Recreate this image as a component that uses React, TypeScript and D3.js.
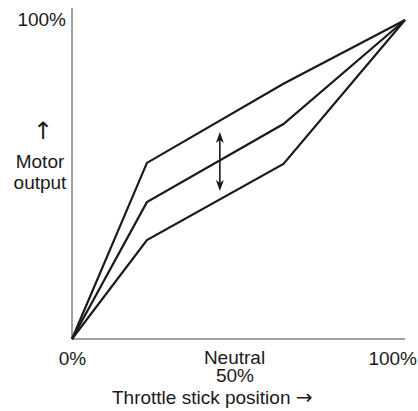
import React from "react";
import * as d3 from "d3";

const throttle = [0, 22.5, 63.5, 100];
const upperOutput = [0, 55.2, 80, 100];
const middleOutput = [0, 42.9, 67.4, 100];
const lowerOutput = [0, 31.0, 54.9, 100];
const seriesList = [upperOutput, middleOutput, lowerOutput];
const arrowX = 44.4;
const arrowRange = [46.4, 64.9];
const xTickLabels = ["0%", "Neutral", "50%", "100%"];

export default function App() {
  const W = 418, H = 411;
  const x = d3.scaleLinear().domain([0, 100]).range([72, 405]);
  const y = d3.scaleLinear().domain([0, 100]).range([339, 20]);
  const line = d3.line<number>().x((_, i) => x(throttle[i])).y((d) => y(d));
  const font = "'Liberation Sans', Arial, Helvetica, sans-serif";
  const arrowFont = "'DejaVu Sans', sans-serif";
  const ax = x(arrowX);
  const y1 = y(arrowRange[1]);
  const y0 = y(arrowRange[0]);
  return (
    <svg width={W} height={H} style={{ position: "absolute", left: 0, top: 0, background: "#fff" }}>
      <line x1={x(0)} y1={y(0)} x2={x(0)} y2={8} stroke="#444" strokeWidth={1} />
      <line x1={x(0)} y1={y(0)} x2={x(100)} y2={y(0)} stroke="#444" strokeWidth={1} />
      {seriesList.map((s, i) => (
        <path key={i} d={line(s) || ""} fill="none" stroke="#1a1a1a" strokeWidth={2.2} strokeLinejoin="miter" />
      ))}
      <line x1={ax} y1={y1 + 6} x2={ax} y2={y0 - 6} stroke="#1a1a1a" strokeWidth={1.6} />
      <path d={`M${ax},${y1} L${ax - 4},${y1 + 11} L${ax},${y1 + 8} L${ax + 4},${y1 + 11} Z`} fill="#1a1a1a" />
      <path d={`M${ax},${y0} L${ax - 4},${y0 - 11} L${ax},${y0 - 8} L${ax + 4},${y0 - 11} Z`} fill="#1a1a1a" />
      <g fontFamily={font} fontSize={19} fill="#1a1a1a">
        <text x={66} y={26} textAnchor="end">100%</text>
        <text x={43} y={139} textAnchor="middle" fontFamily={arrowFont} fontSize={24}>↑</text>
        <text x={40} y={168} textAnchor="middle">Motor</text>
        <text x={40} y={189} textAnchor="middle">output</text>
        <text x={72.5} y={365} textAnchor="middle">{xTickLabels[0]}</text>
        <text x={234.5} y={364} textAnchor="middle">
          <tspan x={234.5}>{xTickLabels[1]}</tspan>
          <tspan x={235} dy={18}>{xTickLabels[2]}</tspan>
        </text>
        <text x={112} y={404} textAnchor="start">Throttle stick position <tspan fontFamily={arrowFont} fontSize={20}>→</tspan></text>
        <text x={417} y={365} textAnchor="end">{xTickLabels[3]}</text>
      </g>
    </svg>
  );
}
